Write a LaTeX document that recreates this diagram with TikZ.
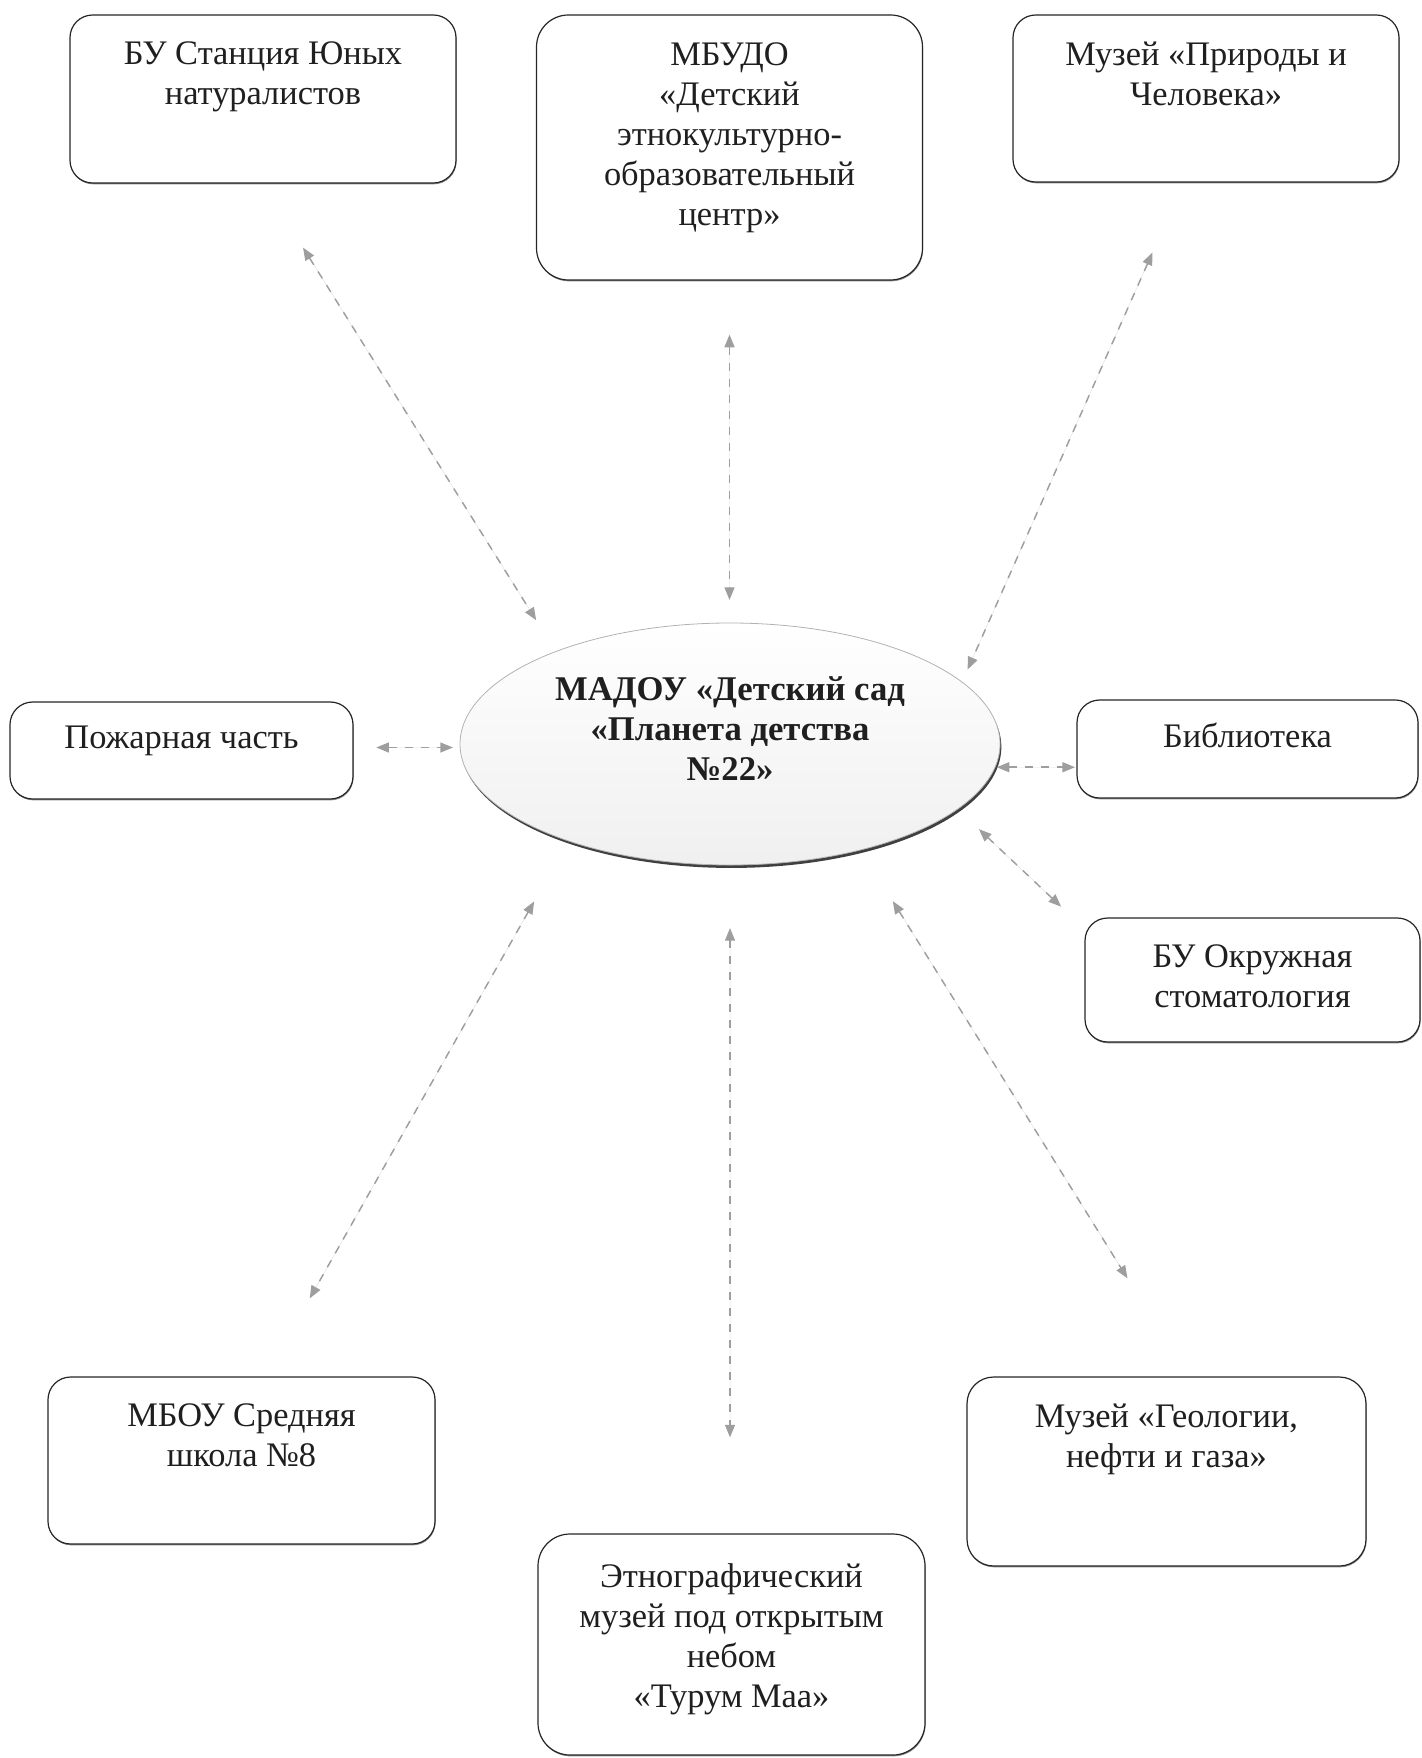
\documentclass[tikz,border=0pt]{standalone}
\usepackage{fontspec}
\setmainfont{Liberation Serif}
\usetikzlibrary{arrows.meta,shadows,calc,shapes.geometric}

\begin{document}
\begin{tikzpicture}[x=0.75pt,y=0.75pt,yscale=-1,xscale=1,
  orgbox/.style={draw=black!85,line width=0.9pt,fill=white,rounded corners=17pt,inner sep=0pt,
    drop shadow={shadow xshift=0.4pt,shadow yshift=-1pt,fill=black!45,opacity=1}},
  hub/.style={ellipse,draw=black!30,line width=0.6pt,inner sep=0pt,
    top color=white,bottom color=black!6,
    drop shadow={shadow xshift=1pt,shadow yshift=-2.2pt,fill=black!75,opacity=1}},
  boxtext/.style={anchor=north,align=center,inner sep=0pt,text=black!88,
    font=\fontsize{25.8}{30}\selectfont,execute at begin node=\strut},
  hubtext/.style={boxtext,font=\fontsize{26}{30}\selectfont\bfseries},
  link/.style={{Triangle[length=9.5pt,width=7.5pt]}-{Triangle[length=9.5pt,width=7.5pt]},
    draw=black!38,fill=black!38,line width=1.1pt,dash pattern=on 6pt off 6pt}]
\useasboundingbox (0,0) rectangle (1421,1758);

%Shape: Ellipse
\node[hub,minimum width=405pt,minimum height=181.5pt] (madou) at (730,744) {};

%Shape: Rounded Rect
\node[orgbox,minimum width=289.5pt,minimum height=126pt] (stn) at (263,99) {};
\node[orgbox,rounded corners=24pt,minimum width=289.5pt,minimum height=198.75pt] (dec) at (729.5,147.5) {};
\node[orgbox,minimum width=289.5pt,minimum height=125.25pt] (muz) at (1206,98.5) {};
\node[orgbox,minimum width=257.25pt,minimum height=72.75pt] (pch) at (181.5,750.5) {};
\node[orgbox,minimum width=255.75pt,minimum height=73.5pt] (bib) at (1247.5,749) {};
\node[orgbox,minimum width=251.25pt,minimum height=93pt] (stom) at (1252.5,980) {};
\node[orgbox,minimum width=290.25pt,minimum height=125.25pt] (sch) at (241.5,1460.5) {};
\node[orgbox,rounded corners=24pt,minimum width=290.25pt,minimum height=165.75pt] (etno) at (731.5,1644.5) {};
\node[orgbox,rounded corners=20pt,minimum width=299.25pt,minimum height=141.75pt] (geol) at (1166.5,1471.5) {};

%Straight Lines
\draw[link,shorten <=56.6pt,shorten >=27.4pt] (stn.south) -- (madou.152);
\draw[link,shorten <=40.5pt,shorten >=17pt] (dec.south) -- (dec.south |- madou.north);
\draw[link,shorten <=57.3pt,shorten >=10pt] (muz.255) -- (madou.15);
\draw[link,shorten <=17pt,shorten >=5pt] (pch.1.5) -- (pch.1.5 -| madou.west);
\draw[link,shorten <=1pt,shorten >=1pt] (madou.-5) -- (madou.-5 -| bib.west);
\draw[link,shorten <=21.7pt,shorten >=24pt] (madou.-16.5) -- (stom.163);
\draw[link,shorten <=45pt,shorten >=86.6pt] (madou.-39) -- (geol.77);
\draw[link,shorten <=47pt,shorten >=72pt] (madou.south) -- (madou.south |- etno.north);
\draw[link,shorten <=51.8pt,shorten >=67.2pt] (madou.211) -- (sch.74);

% Text Node
\node[hubtext] (madou-t) at ($(madou.center)+(0,-68)$) {МАДОУ «Детский сад\\«Планета детства\\№22»};
% Text Node
\node[boxtext] (stn-t) at ($(stn.north)+(0,27)$) {БУ Станция Юных\\натуралистов};
% Text Node
\node[boxtext] (dec-t) at ($(dec.north)+(0,28)$) {МБУДО\\«Детский\\этнокультурно-\\образовательный\\центр»};
% Text Node
\node[boxtext] (muz-t) at ($(muz.north)+(0,27)$) {Музей «Природы и\\Человека»};
% Text Node
\node[boxtext] (pch-t) at ($(pch.north)+(0,19)$) {Пожарная часть};
% Text Node
\node[boxtext] (bib-t) at ($(bib.north)+(0,20)$) {Библиотека};
% Text Node
\node[boxtext] (stom-t) at ($(stom.north)+(0,27)$) {БУ Окружная\\стоматология};
% Text Node
\node[boxtext] (sch-t) at ($(sch.north)+(0,27)$) {МБОУ Средняя\\школа №8};
% Text Node
\node[boxtext] (etno-t) at ($(etno.north)+(0,30)$) {Этнографический\\музей под открытым\\небом\\«Турум Маа»};
% Text Node
\node[boxtext] (geol-t) at ($(geol.north)+(0,27)$) {Музей «Геологии,\\нефти и газа»};

\end{tikzpicture}
\end{document}
